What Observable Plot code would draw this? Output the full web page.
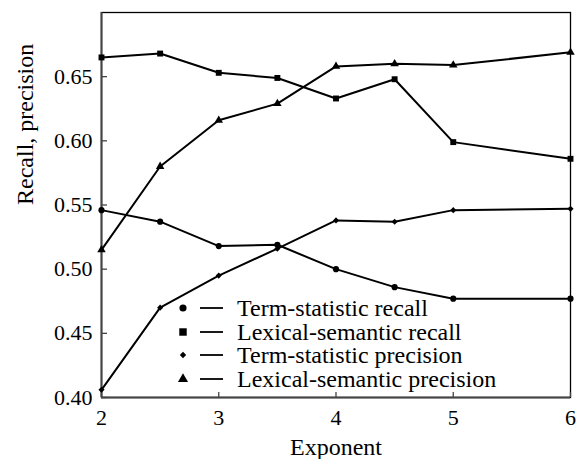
<!DOCTYPE html>
<html>
<head>
<meta charset="utf-8">
<script src="https://cdn.jsdelivr.net/npm/d3@7"></script>
<script src="https://cdn.jsdelivr.net/npm/@observablehq/plot@0.6"></script>
<style>
  html, body { margin: 0; padding: 0; background: #fff; }
  svg { font-family: "Liberation Serif", "DejaVu Serif", serif; }
</style>
</head>
<body>
<div id="chart"></div>
<script>
const exponents = [2, 2.5, 3, 3.5, 4, 4.5, 5, 6];
const termStatRecall = [0.546, 0.537, 0.518, 0.519, 0.500, 0.486, 0.477, 0.477];
const lexSemRecall = [0.665, 0.668, 0.653, 0.649, 0.633, 0.648, 0.599, 0.586];
const termStatPrecision = [0.406, 0.470, 0.495, 0.516, 0.538, 0.537, 0.546, 0.547];
const lexSemPrecision = [0.515, 0.580, 0.616, 0.629, 0.658, 0.660, 0.659, 0.669];

const seriesNames = ["Term-statistic recall", "Lexical-semantic recall", "Term-statistic precision", "Lexical-semantic precision"];
const seriesValues = [termStatRecall, lexSemRecall, termStatPrecision, lexSemPrecision];
const seriesSymbols = ["circle", "square", "diamond2", "triangle"];
const seriesR = [4, 4.7, 3.2, 4.2];

const xTicks = [2, 3, 4, 5, 6];
const yTicks = [0.40, 0.45, 0.50, 0.55, 0.60, 0.65];
const xLabel = "Exponent";
const yLabel = "Recall, precision";

const rows = [];
seriesNames.forEach((name, i) => {
  exponents.forEach((e, j) => rows.push({series: name, x: e, y: seriesValues[i][j], s: seriesSymbols[i], r: seriesR[i]}));
});

const fontFamily = '"Liberation Serif", "DejaVu Serif", serif';
const FS = 24;
const TFS = 22;

function legend(index, scales, values, dimensions) {
  const g = d3.create("svg:g").attr("font-family", fontFamily);
  const bottom = dimensions.height - dimensions.marginBottom;
  const left = dimensions.marginLeft;
  const rowDy = [-89, -65, -42, -18];
  seriesNames.forEach((name, i) => {
    const cy = bottom + rowDy[i];
    const cx = left + 82;
    g.append("path")
      .attr("transform", `translate(${cx},${cy})`)
      .attr("d", d3.symbol(
        {circle: d3.symbolCircle, square: d3.symbolSquare, diamond2: d3.symbolDiamond2, triangle: d3.symbolTriangle}[seriesSymbols[i]],
        Math.PI * seriesR[i] * seriesR[i] * 0.8)())
      .attr("fill", "#000");
    g.append("line")
      .attr("x1", left + 99).attr("x2", left + 122)
      .attr("y1", cy).attr("y2", cy)
      .attr("stroke", "#000").attr("stroke-width", 1.8);
    g.append("text")
      .attr("x", left + 136).attr("y", cy)
      .attr("dy", "0.35em")
      .attr("text-anchor", "start")
      .attr("font-size", FS)
      .attr("fill", "#000")
      .text(name);
  });
  return g.node();
}

const chart = Plot.plot({
  width: 579,
  height: 459,
  marginLeft: 101,
  marginRight: 9,
  marginTop: 12,
  marginBottom: 62,
  style: {fontFamily: fontFamily, background: "#fff", color: "#000"},
  x: {domain: [2, 6]},
  y: {domain: [0.40, 0.70]},
  symbol: {type: "identity"},
  marks: [
    Plot.frame({stroke: "#000", strokeWidth: 1.3}),
    Plot.ruleX([2], {stroke: "#444", strokeWidth: 2}),
    Plot.ruleY([0.40], {stroke: "#444", strokeWidth: 2}),
    Plot.axisY({ticks: yTicks, tickSize: -6, tickFormat: () => "", label: null, stroke: "#444", strokeWidth: 1.3}),
    Plot.axisX({ticks: xTicks, tickSize: -5, tickFormat: () => "", label: null, stroke: "#444", strokeWidth: 1.3}),
    Plot.text(yTicks, {y: d => d, text: d3.format(".2f"), frameAnchor: "left", dx: -9, textAnchor: "end", fontSize: TFS, fill: "#000"}),
    Plot.text(xTicks, {x: d => d, text: d3.format("d"), frameAnchor: "bottom", dy: 12, lineAnchor: "top", fontSize: TFS, fill: "#000"}),
    Plot.text([yLabel], {frameAnchor: "left", rotate: -90, dx: -76, fontSize: FS, fill: "#000"}),
    Plot.text([xLabel], {frameAnchor: "bottom", dy: 57, fontSize: FS, fill: "#000"}),
    Plot.line(rows, {x: "x", y: "y", z: "series", stroke: "#000", strokeWidth: 2}),
    Plot.dot(rows, {x: "x", y: "y", symbol: "s", r: "r", fill: "#000", stroke: "none"}),
    legend
  ]
});
document.getElementById("chart").appendChild(chart);
</script>
</body>
</html>
